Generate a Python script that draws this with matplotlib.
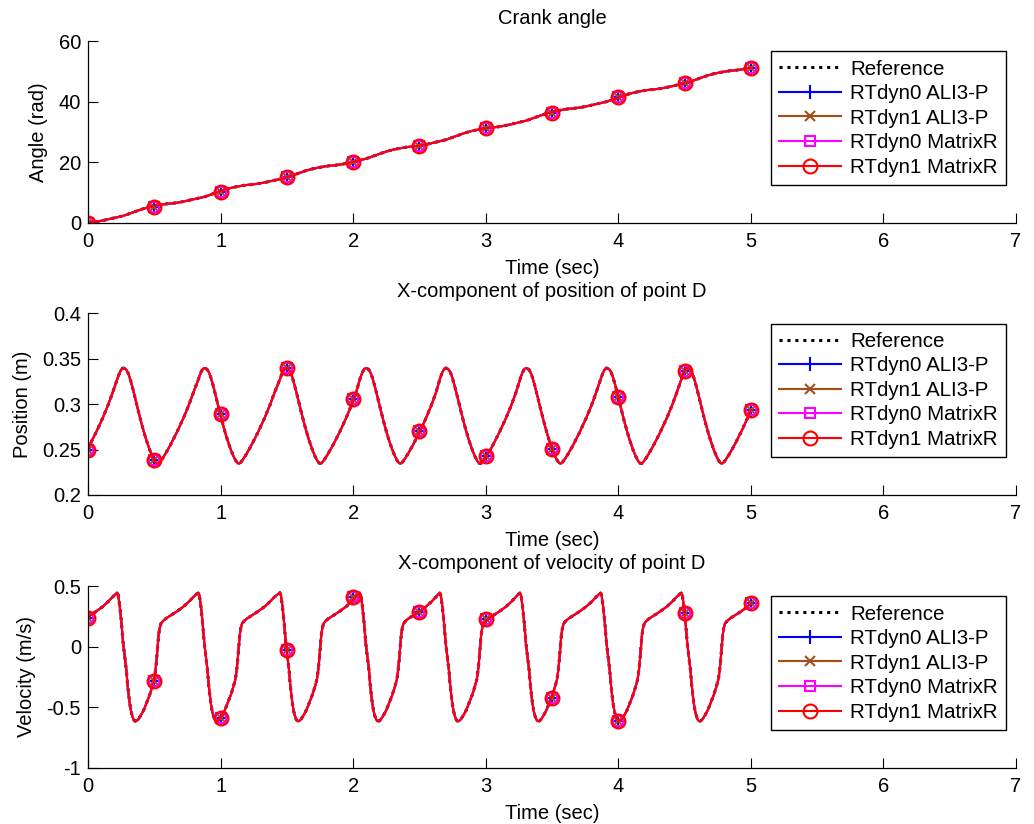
import numpy as np
import matplotlib
matplotlib.use("Agg")
import matplotlib.pyplot as plt
from matplotlib.lines import Line2D

plt.rcParams['font.family'] = ['Liberation Sans', 'DejaVu Sans']
plt.rcParams['axes.unicode_minus'] = False

FS = 14.5
LEG_FS = 14.8

# ---------------- data ----------------
# One mechanism cycle, phase (s) measured from each peak of the D velocity
cycle_phase = [0.000, 0.008, 0.020, 0.033, 0.045, 0.058, 0.070, 0.078, 0.087,
               0.095, 0.104, 0.113, 0.123, 0.133, 0.145, 0.160, 0.180, 0.200,
               0.220, 0.245, 0.265, 0.280, 0.290, 0.298, 0.305, 0.312, 0.320,
               0.330, 0.345, 0.365, 0.400, 0.450, 0.500, 0.540, 0.575]
# crank angle gained since the velocity peak (rad)
cycle_angle = [0.00, 0.08, 0.20, 0.33, 0.45, 0.63, 0.82, 0.95, 1.09,
               1.22, 1.36, 1.51, 1.67, 1.83, 2.02, 2.25, 2.55, 2.85,
               3.09, 3.39, 3.59, 3.72, 3.81, 3.88, 3.94, 3.99, 4.06,
               4.13, 4.25, 4.37, 4.51, 4.79, 5.19, 5.58, 5.95]
# x position of point D (m)
cycle_pos = [0.3270, 0.3305, 0.3350, 0.3384, 0.3397, 0.3393, 0.3376, 0.3356,
             0.3325, 0.3291, 0.3247, 0.3199, 0.3142, 0.3083, 0.3011, 0.2922,
             0.2808, 0.2702, 0.2605, 0.2499, 0.2428, 0.2384, 0.2362, 0.2350,
             0.2347, 0.2349, 0.2359, 0.2378, 0.2409, 0.2456, 0.2546, 0.2689,
             0.2847, 0.2988, 0.3127]
# x velocity of point D (m/s)
cycle_vel = [0.445, 0.425, 0.33, 0.19, 0.03, -0.09, -0.20, -0.31, -0.40,
             -0.47, -0.53, -0.57, -0.60, -0.615, -0.615, -0.60, -0.565, -0.525,
             -0.47, -0.40, -0.33, -0.27, -0.19, -0.10, 0.00, 0.09, 0.15,
             0.19, 0.21, 0.23, 0.255, 0.29, 0.33, 0.37, 0.41]

# times of the velocity peaks (s) and crank angle at those instants (rad)
vel_peak_times = [-0.389, 0.220, 0.832, 1.447, 2.050, 2.653, 3.258, 3.866,
                  4.475]
crank_at_peak = [-4.47, 1.81, 8.09, 14.38, 20.66, 26.94, 33.23, 39.51, 45.79]

# values at the 0.5 s sample instants (markers)
marker_time = [0.0, 0.5, 1.0, 1.5, 2.0, 2.5, 3.0, 3.5, 4.0, 4.5, 5.0]
marker_angle = [0.0, 5.2, 10.3, 15.1, 19.9, 25.5, 31.3, 36.4, 41.5, 46.0, 51.2]
marker_pos = [0.250, 0.239, 0.289, 0.340, 0.306, 0.270, 0.243, 0.251, 0.308,
              0.337, 0.2935]
marker_vel = [0.238, -0.28, -0.587, -0.026, 0.407, 0.288, 0.225, -0.427,
              -0.615, 0.28, 0.36]

series_names = ['Reference', 'RTdyn0 ALI3-P', 'RTdyn1 ALI3-P',
                'RTdyn0 MatrixR', 'RTdyn1 MatrixR']
series_colors = ['k', (0, 0, 1), (0.65, 0.3, 0.1), (1, 0, 1), (1, 0, 0)]
series_markers = [None, '+', 'x', 's', 'o']
series_msize = [0, 10, 7, 7, 10]
series_ls = [(0, (1, 1.6)), '-', '-', '-', '-']

# ---------------- assemble the traces over 0..5 s ----------------
d_time = [marker_time[0]]
d_angle = [marker_angle[0]]
d_pos = [marker_pos[0]]
d_vel = [marker_vel[0]]
for p, a0 in zip(vel_peak_times, crank_at_peak):
    for ph, a, x, v in zip(cycle_phase, cycle_angle, cycle_pos, cycle_vel):
        tt = p + ph
        if 0.0 < tt < 5.0:
            d_time.append(tt)
            d_angle.append(a0 + a)
            d_pos.append(x)
            d_vel.append(v)
d_time.append(marker_time[-1])
d_angle.append(marker_angle[-1])
d_pos.append(marker_pos[-1])
d_vel.append(marker_vel[-1])

# ---------------- figure ----------------
fig = plt.figure(figsize=(10.34, 8.24), dpi=100)
rects = [(0.0851, 0.7297, 0.8975, 0.2205),
         (0.0851, 0.3993, 0.8975, 0.2205),
         (0.0851, 0.0683, 0.8975, 0.2205)]
panels = [
    (d_angle, marker_angle, 'Crank angle', 'Angle (rad)',
     (0, 60), [0, 20, 40, 60], ['0', '20', '40', '60']),
    (d_pos, marker_pos, 'X-component of position of point D',
     'Position (m)', (0.2, 0.4), [0.2, 0.25, 0.3, 0.35, 0.4],
     ['0.2', '0.25', '0.3', '0.35', '0.4']),
    (d_vel, marker_vel, 'X-component of velocity of point D',
     'Velocity (m/s)', (-1, 0.5), [-1, -0.5, 0, 0.5],
     ['-1', '-0.5', '0', '0.5']),
]

for rect, (yv, my, title, ylabel, ylim, yt, ytl) in zip(rects, panels):
    ax = fig.add_axes(rect)
    handles = []
    for name, c, mk, ms, ls in zip(series_names, series_colors, series_markers,
                                   series_msize, series_ls):
        lw = 2.2 if mk is None else 1.5
        ax.plot(d_time, yv, color=c, linestyle=ls, linewidth=lw)
        if mk is not None:
            ax.plot(marker_time, my, linestyle='none', marker=mk, markersize=ms,
                    markeredgecolor=c, markerfacecolor='none',
                    markeredgewidth=1.5)
        handles.append(Line2D([], [], color=c, linestyle=ls, linewidth=lw,
                              marker=mk, markersize=ms, markeredgecolor=c,
                              markerfacecolor='none', markeredgewidth=1.5))
    ax.set_xlim(0, 7)
    ax.set_ylim(*ylim)
    ax.set_xticks(range(8))
    ax.set_yticks(yt)
    ax.set_yticklabels(ytl)
    ax.spines['top'].set_visible(False)
    ax.spines['right'].set_visible(False)
    for s in ('left', 'bottom'):
        ax.spines[s].set_linewidth(0.9)
    ax.tick_params(direction='in', length=7, width=0.8, labelsize=FS)
    ax.tick_params(axis='x', pad=6.5)
    ax.tick_params(axis='y', pad=5)
    ax.set_title(title, fontsize=FS, pad=12)
    ax.set_xlabel('Time (sec)', fontsize=FS, labelpad=6)
    ax.set_ylabel(ylabel, fontsize=FS, labelpad=7.5)
    leg = ax.legend(handles, series_names, loc='upper right', fontsize=LEG_FS,
                    frameon=True, fancybox=False, edgecolor='k', framealpha=1,
                    borderaxespad=0.5, handlelength=3.0, handletextpad=0.45,
                    labelspacing=0.27, borderpad=0.4)
    leg.get_frame().set_linewidth(1.0)

fig.savefig('out.png', dpi=100)
